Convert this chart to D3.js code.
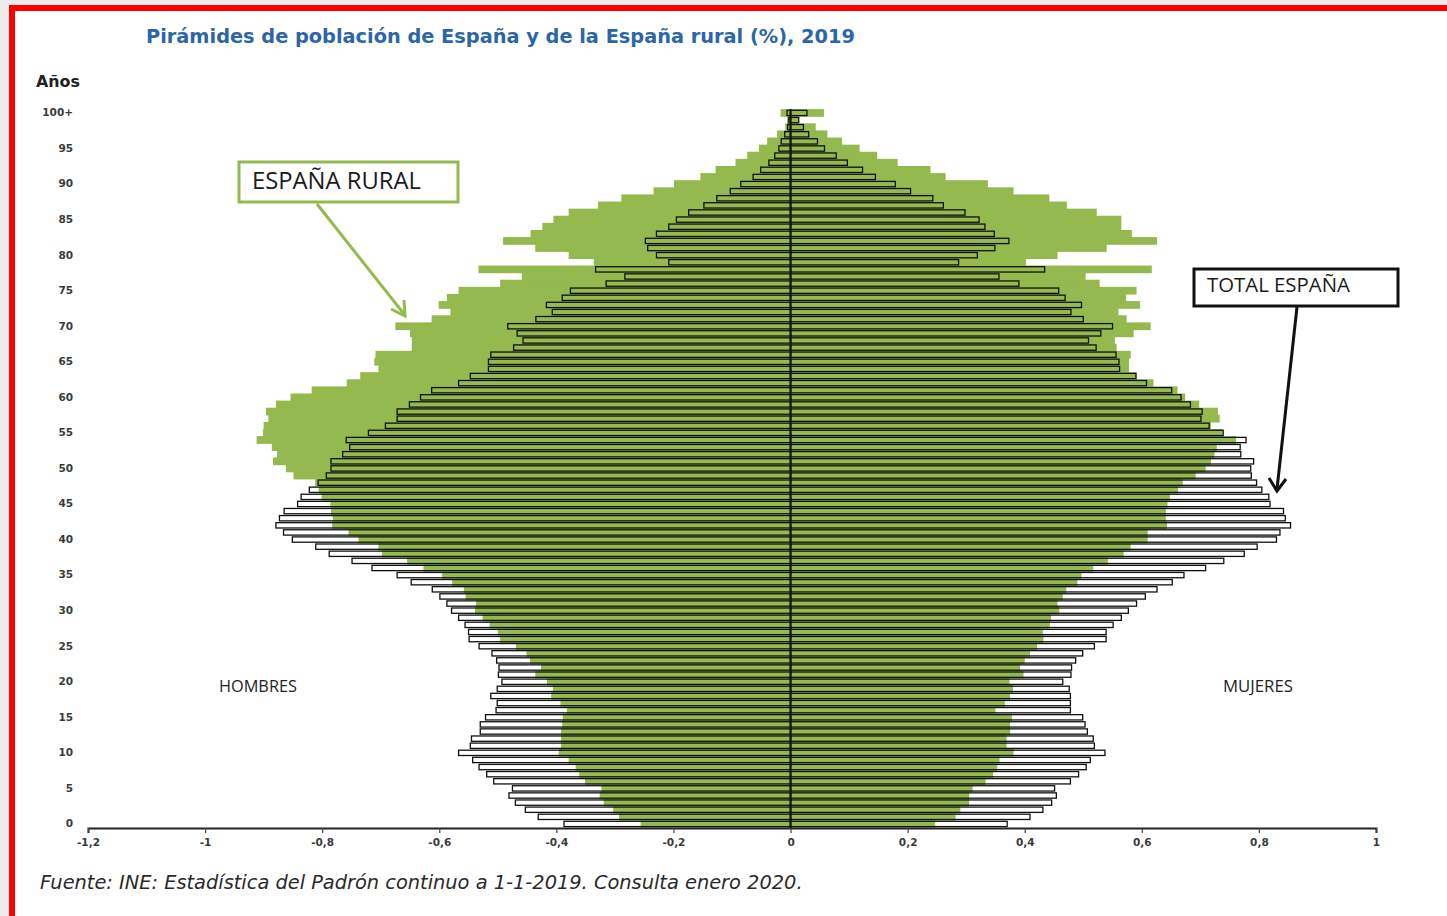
<!DOCTYPE html>
<html>
<head>
<meta charset="utf-8">
<script src="https://cdn.jsdelivr.net/npm/d3@7"></script>
<style>
  html, body { margin: 0; padding: 0; background: #ededed; }
  svg { display: block; }
</style>
</head>
<body>
<svg id="chart" width="1447" height="916"></svg>
<script>
// ---------- DATA (percent of total population, ages 0..100+) ----------
const ages = d3.range(0, 101);
const ageTicks = [0,5,10,15,20,25,30,35,40,45,50,55,60,65,70,75,80,85,90,95,100];
const xTicks = [-1.2,-1,-0.8,-0.6,-0.4,-0.2,0,0.2,0.4,0.6,0.8,1];

const totalMen = [
0.387,0.431,0.453,0.470,0.481,0.475,0.507,0.519,0.532,0.543,
0.567,0.547,0.545,0.530,0.530,0.521,0.503,0.501,0.512,0.501,
0.493,0.499,0.498,0.502,0.510,0.532,0.549,0.550,0.556,0.567,
0.579,0.587,0.599,0.612,0.648,0.672,0.715,0.749,0.788,0.811,
0.851,0.866,0.879,0.873,0.865,0.842,0.836,0.822,0.807,0.793,
0.785,0.785,0.765,0.753,0.759,0.721,0.692,0.672,0.672,0.651,
0.632,0.613,0.567,0.547,0.516,0.516,0.512,0.473,0.457,0.467,
0.483,0.435,0.407,0.417,0.390,0.376,0.315,0.283,0.333,0.208,
0.229,0.244,0.248,0.229,0.208,0.195,0.174,0.148,0.126,0.103,
0.085,0.064,0.051,0.037,0.027,0.020,0.016,0.010,0.005,0.003,
0.006];

const totalWomen = [
0.370,0.409,0.431,0.446,0.454,0.451,0.478,0.492,0.505,0.512,
0.537,0.519,0.517,0.507,0.503,0.499,0.478,0.478,0.478,0.476,
0.465,0.479,0.480,0.487,0.499,0.519,0.539,0.539,0.551,0.565,
0.577,0.591,0.606,0.626,0.652,0.672,0.709,0.740,0.775,0.797,
0.830,0.836,0.854,0.845,0.842,0.819,0.817,0.805,0.796,0.787,
0.786,0.791,0.769,0.768,0.778,0.739,0.715,0.701,0.703,0.683,
0.667,0.651,0.608,0.590,0.562,0.561,0.556,0.522,0.509,0.530,
0.550,0.500,0.479,0.497,0.469,0.458,0.390,0.356,0.434,0.287,
0.319,0.349,0.373,0.348,0.332,0.322,0.298,0.261,0.243,0.205,
0.179,0.145,0.123,0.097,0.078,0.058,0.046,0.031,0.022,0.014,
0.028];

const ruralMen = [
0.256,0.293,0.303,0.319,0.326,0.323,0.351,0.361,0.367,0.379,
0.396,0.392,0.392,0.392,0.390,0.389,0.382,0.393,0.409,0.406,
0.416,0.436,0.426,0.445,0.451,0.469,0.496,0.500,0.514,0.526,
0.539,0.537,0.555,0.558,0.578,0.595,0.627,0.655,0.698,0.704,
0.738,0.755,0.783,0.782,0.785,0.786,0.801,0.806,0.812,0.849,
0.862,0.884,0.877,0.886,0.912,0.901,0.900,0.892,0.896,0.879,
0.854,0.818,0.758,0.735,0.704,0.711,0.709,0.647,0.647,0.650,
0.675,0.613,0.581,0.601,0.587,0.567,0.496,0.459,0.533,0.336,
0.379,0.436,0.491,0.444,0.424,0.405,0.379,0.329,0.289,0.234,
0.199,0.154,0.128,0.094,0.074,0.054,0.040,0.023,0.009,0.006,
0.017];

const ruralWomen = [
0.247,0.282,0.290,0.305,0.305,0.311,0.333,0.346,0.353,0.357,
0.381,0.369,0.369,0.375,0.375,0.378,0.350,0.366,0.375,0.380,
0.374,0.398,0.392,0.400,0.409,0.421,0.432,0.431,0.443,0.445,
0.459,0.456,0.465,0.471,0.490,0.497,0.517,0.542,0.569,0.581,
0.610,0.610,0.643,0.641,0.641,0.644,0.648,0.662,0.670,0.692,
0.709,0.718,0.724,0.728,0.761,0.738,0.718,0.733,0.730,0.698,
0.674,0.661,0.620,0.591,0.578,0.578,0.581,0.557,0.554,0.586,
0.615,0.574,0.560,0.597,0.573,0.591,0.528,0.504,0.617,0.402,
0.456,0.540,0.626,0.583,0.565,0.565,0.523,0.472,0.442,0.381,
0.337,0.265,0.239,0.183,0.148,0.118,0.088,0.063,0.043,0.013,
0.057];

// ---------- TEXTS ----------
const titleText = "Pirámides de población de España y de la España rural (%), 2019";
const sourceText = "Fuente: INE: Estadística del Padrón continuo a 1-1-2019. Consulta enero 2020.";
const yAxisTitle = "Años";
const labelMen = "HOMBRES";
const labelWomen = "MUJERES";
const labelRural = "ESPAÑA RURAL";
const labelTotal = "TOTAL ESPAÑA";

// ---------- STYLE ----------
const GREEN = "#94b94f";
const BLUE = "#2d66a6";
const TEXT = "#3a3a3a";

const svg = d3.select("#chart");

// page / frame
svg.append("rect").attr("x", 0).attr("y", 0).attr("width", 1447).attr("height", 916).attr("fill", "#ececec");
svg.append("rect").attr("x", 12).attr("y", 8).attr("width", 1460).attr("height", 940)
   .attr("fill", "#ffffff").attr("stroke", "#ff0000").attr("stroke-width", 6);

// scales
const x = d3.scaleLinear().domain([-1.2, 1]).range([88, 1376]);
const y = d3.scaleBand().domain(ages).range([827.5, 109.4]).paddingInner(0).paddingOuter(0);
const bw = y.bandwidth();

// fit helper
function fitWidth(sel, target) {
  const node = sel.node();
  const w = node.getComputedTextLength();
  const fs = parseFloat(sel.attr("font-size"));
  if (w > 0) sel.attr("font-size", fs * target / w);
}

// title
const title = svg.append("text").attr("x", 146).attr("y", 43)
  .attr("font-family", "DejaVu Sans, Verdana, sans-serif").attr("font-weight", "bold")
  .attr("font-size", 15).attr("fill", BLUE).text(titleText);
fitWidth(title, 709);

// rural (green) bars
const g = svg.append("g");
g.selectAll("rect.rm").data(ages).join("rect").attr("class", "rm")
  .attr("x", d => x(-ruralMen[d])).attr("width", d => x(0) - x(-ruralMen[d]))
  .attr("y", d => y(d) - 0.3).attr("height", bw + 0.6).attr("fill", GREEN);
g.selectAll("rect.rw").data(ages).join("rect").attr("class", "rw")
  .attr("x", x(0)).attr("width", d => x(ruralWomen[d]) - x(0))
  .attr("y", d => y(d) - 0.3).attr("height", bw + 0.6).attr("fill", GREEN);

// total (outlined) bars
const t = svg.append("g").attr("fill", "none").attr("stroke", "#111").attr("stroke-width", 1.3);
t.selectAll("rect.tm").data(ages).join("rect").attr("class", "tm")
  .attr("x", d => x(-totalMen[d])).attr("width", d => x(0) - x(-totalMen[d]))
  .attr("y", d => y(d) + 0.9).attr("height", bw - 1.8);
t.selectAll("rect.tw").data(ages).join("rect").attr("class", "tw")
  .attr("x", x(0)).attr("width", d => x(totalWomen[d]) - x(0))
  .attr("y", d => y(d) + 0.9).attr("height", bw - 1.8);

// center line
svg.append("line").attr("x1", x(0)).attr("x2", x(0)).attr("y1", 109).attr("y2", 828)
  .attr("stroke", "#111").attr("stroke-width", 2);

// x axis
const xAxis = d3.axisBottom(x).tickValues(xTicks).tickSize(5).tickPadding(6)
  .tickFormat(d => String(Math.round(d * 10) / 10).replace(".", ","));
const xg = svg.append("g").attr("transform", "translate(0,828)").call(xAxis);
xg.select(".domain").attr("stroke", "#222").attr("stroke-width", 2);
xg.selectAll(".tick line").attr("stroke", "#444").attr("stroke-width", 1.2);
xg.selectAll(".tick text").attr("font-family", "DejaVu Sans, Verdana, sans-serif")
  .attr("font-weight", "bold").attr("font-size", 10.5).attr("fill", TEXT);

// y axis
const yAxis = d3.axisLeft(y).tickValues(ageTicks).tickSize(0).tickPadding(0)
  .tickFormat(d => d === 100 ? "100+" : String(d));
const yg = svg.append("g").attr("transform", "translate(73,0)").call(yAxis);
yg.select(".domain").remove();
yg.selectAll(".tick text").attr("font-family", "DejaVu Sans, Verdana, sans-serif")
  .attr("font-weight", "bold").attr("font-size", 10.5).attr("fill", TEXT);

const at = svg.append("text").attr("x", 36).attr("y", 87)
  .attr("font-family", "DejaVu Sans, Verdana, sans-serif").attr("font-weight", "bold")
  .attr("font-size", 14).attr("fill", "#222").text(yAxisTitle);
fitWidth(at, 44);

// side labels
const hm = svg.append("text").attr("x", 219).attr("y", 692)
  .attr("font-family", "Open Sans, sans-serif").attr("font-size", 13).attr("fill", "#222").text(labelMen);
fitWidth(hm, 78);
const mj = svg.append("text").attr("x", 1223).attr("y", 692)
  .attr("font-family", "Open Sans, sans-serif").attr("font-size", 13).attr("fill", "#222").text(labelWomen);
fitWidth(mj, 70);

// annotation: ESPAÑA RURAL
svg.append("rect").attr("x", 239).attr("y", 162).attr("width", 219).attr("height", 40)
  .attr("fill", "#fff").attr("stroke", GREEN).attr("stroke-width", 3);
const er = svg.append("text").attr("x", 252).attr("y", 189)
  .attr("font-family", "Open Sans, sans-serif").attr("font-size", 19).attr("fill", "#1a1a1a").text(labelRural);
fitWidth(er, 169);
svg.append("line").attr("x1", 317).attr("y1", 204).attr("x2", 404).attr("y2", 314)
  .attr("stroke", GREEN).attr("stroke-width", 3);
svg.append("polyline").attr("points", "391,309 405,316 404,300")
  .attr("fill", "none").attr("stroke", GREEN).attr("stroke-width", 3);

// annotation: TOTAL ESPAÑA
svg.append("rect").attr("x", 1194).attr("y", 269).attr("width", 204).attr("height", 37)
  .attr("fill", "#fff").attr("stroke", "#111").attr("stroke-width", 3);
const te = svg.append("text").attr("x", 1207).attr("y", 292)
  .attr("font-family", "Open Sans, sans-serif").attr("font-size", 18).attr("fill", "#1a1a1a").text(labelTotal);
fitWidth(te, 143);
svg.append("line").attr("x1", 1297).attr("y1", 307).attr("x2", 1277).attr("y2", 489)
  .attr("stroke", "#111").attr("stroke-width", 3);
svg.append("polyline").attr("points", "1269,478 1277,491 1286,479")
  .attr("fill", "none").attr("stroke", "#111").attr("stroke-width", 3);

// source
const src = svg.append("text").attr("x", 40).attr("y", 889)
  .attr("font-family", "DejaVu Sans, Verdana, sans-serif").attr("font-style", "italic")
  .attr("font-size", 15).attr("fill", "#2a2a2a").text(sourceText);
fitWidth(src, 763);
</script>
</body>
</html>
